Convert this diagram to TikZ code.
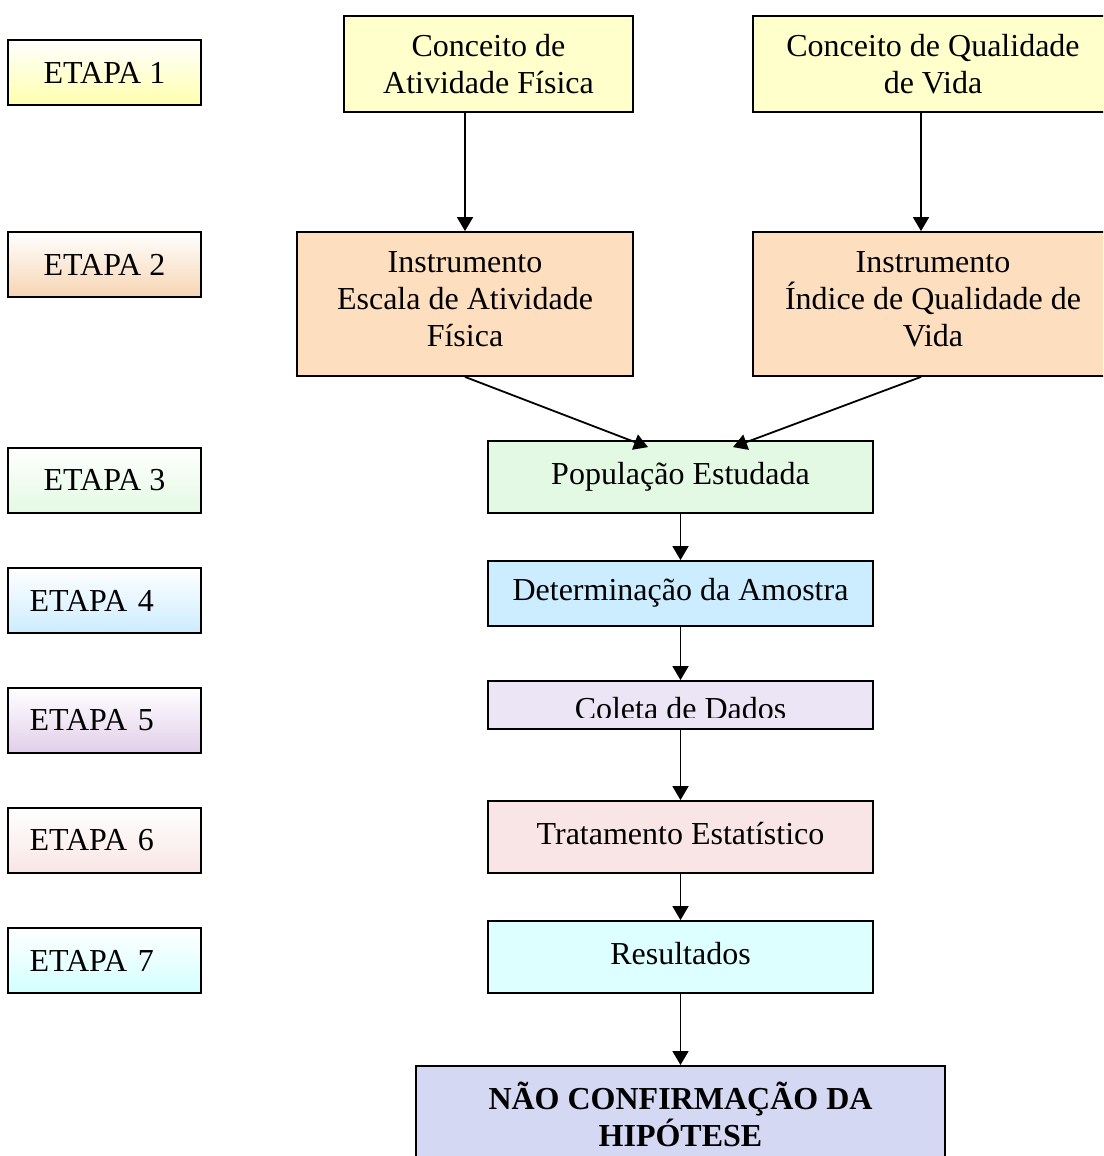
\documentclass[tikz,border=0pt]{standalone}
\usepackage{fontspec}
\setmainfont{Liberation Serif}
\usepackage{tikz}
\usetikzlibrary{arrows.meta}

\definecolor{amarelo}{HTML}{FFFFCC}
\definecolor{pessego}{HTML}{FDDEBF}
\definecolor{verde}{HTML}{E3F9E3}
\definecolor{azul}{HTML}{CCECFF}
\definecolor{lilas}{HTML}{ECE5F5}
\definecolor{rosa}{HTML}{F9E5E5}
\definecolor{ciano}{HTML}{DDFFFF}
\definecolor{anil}{HTML}{D4D8F2}

\begin{document}
\begin{tikzpicture}[x=1pt,y=-1pt,
    every node/.style={font=\fontsize{32}{37}\selectfont},
    caixa/.style={draw=black,line width=1.8pt,align=center,inner sep=0pt},
    etapa/.style={caixa,minimum width=193pt,minimum height=65pt,top color=white},
    etapaesq/.style={etapa,text width=150pt,align=left,inner xsep=21.5pt},
    passo/.style={caixa,minimum width=385pt,text height=21pt,text depth=7pt},
    seta/.style={line width=1.8pt,-{Triangle[length=14pt,width=16pt]}},
  ]
  \useasboundingbox (0,0) rectangle (1103,1156);
  \clip (0,0) rectangle (1103,1156);

  \node[etapa,bottom color=amarelo!85!yellow] (e1) at (104.5,72.5) {ETAPA 1};
  \node[etapa,bottom color=pessego!90!brown] (e2) at (104.5,264.5) {ETAPA 2};
  \node[etapa,bottom color=verde] (e3) at (104.5,480.5) {ETAPA 3};
  \node[etapaesq,bottom color=azul] (e4) at (104.5,600.5) {ETAPA 4};
  \node[etapaesq,bottom color=lilas!90!violet] (e5) at (104.5,720.5) {ETAPA 5};
  \node[etapaesq,bottom color=rosa] (e6) at (104.5,840.5) {ETAPA 6};
  \node[etapaesq,bottom color=ciano!95!cyan] (e7) at (104.5,960.5) {ETAPA 7};

  \node[caixa,fill=amarelo,minimum width=289pt,minimum height=96pt] (ativ) at (488.5,64)
    {Conceito de\\Atividade Física};
  \node[caixa,fill=amarelo,minimum width=360pt,minimum height=96pt] (qual) at (933,64)
    {Conceito de Qualidade\\de Vida};
  \node[caixa,fill=pessego,minimum width=336pt,minimum height=144pt] (instA) at (465,304)
    {Instrumento\\Escala de Atividade\\Física\\[-27pt]};
  \node[caixa,fill=pessego,minimum width=360pt,minimum height=144pt] (instB) at (933,304)
    {Instrumento\\Índice de Qualidade de\\Vida\\[-27pt]};

  \node[passo,fill=verde,minimum height=72pt] (pop) at (680.5,477) {População Estudada};
  \node[passo,fill=azul,minimum height=65pt] (amostra) at (680.5,593.5) {Determinação da Amostra};
  \node[passo,fill=lilas,minimum height=48pt] (coleta) at (680.5,705) {};
  \begin{scope}
    \clip (488,681) rectangle (873,717);
    \node[anchor=base] (coletatxt) at (680.5,719) {Coleta de Dados};
  \end{scope}
  \node[passo,fill=rosa,minimum height=72pt] (trat) at (680.5,837) {Tratamento Estatístico};
  \node[passo,fill=ciano,minimum height=72pt] (res) at (680.5,957) {Resultados};
  \node[caixa,fill=anil,minimum width=529pt,minimum height=97pt,anchor=north,
    font=\fontsize{32}{37}\selectfont\bfseries] (hip) at (680.5,1065)
    {NÃO CONFIRMAÇÃO DA\\HIPÓTESE};

  \draw[seta] ([xshift=-23.5pt]ativ.south) -- (instA.north);
  \draw[seta] ([xshift=-12pt]qual.south) -- ([xshift=-12pt]instB.north);
  \draw[seta] (instA.south) -- ([xshift=-32.5pt,yshift=-7pt]pop.north);
  \draw[seta] ([xshift=-12pt]instB.south) -- ([xshift=52.5pt,yshift=-7pt]pop.north);
  \draw[seta] (pop) -- (amostra);
  \draw[seta] (amostra) -- (coleta);
  \draw[seta] (coleta) -- (trat);
  \draw[seta] (trat) -- (res);
  \draw[seta] (res) -- (hip);
\end{tikzpicture}
\end{document}
